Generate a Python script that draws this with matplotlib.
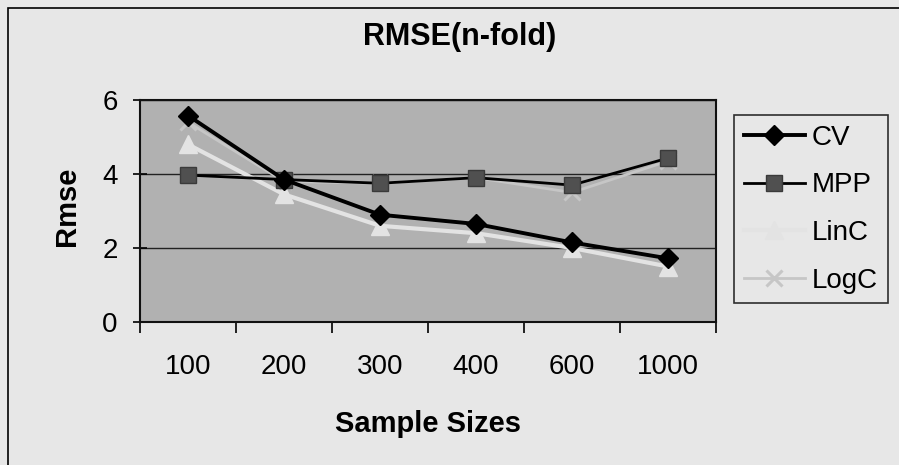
import matplotlib.pyplot as plt
from matplotlib.patches import Rectangle

# data
sizes = ['100', '200', '300', '400', '600', '1000']
cv = [5.58, 3.85, 2.9, 2.65, 2.15, 1.72]
mpp = [3.97, 3.85, 3.75, 3.9, 3.7, 4.43]
linc = [4.8, 3.45, 2.6, 2.4, 2.0, 1.5]
logc = [5.4, 3.8, 3.75, 3.9, 3.5, 4.35]

plt.rcParams['font.family'] = ['Liberation Sans', 'DejaVu Sans']

W, H = 899, 465
fig = plt.figure(figsize=(W / 100, H / 100), dpi=100)
fig.patch.set_facecolor('#e7e7e7')
# outer chart frame
fig.patches.append(Rectangle((8 / W, -0.05), 1.1, 1 - 8 / H + 0.05, transform=fig.transFigure,
                             fill=False, edgecolor='black', linewidth=1.2))

ax = fig.add_axes([140 / W, 1 - 322 / H, 576 / W, 222 / H])
ax.set_facecolor('#b1b1b1')
x = list(range(len(sizes)))

ax.plot(x, logc, color='#c6c6c6', linewidth=2, marker='x', markersize=11,
        markeredgewidth=2.2, label='LogC', zorder=3)
ax.plot(x, linc, color='#e3e3e3', linewidth=3, marker='^', markersize=13,
        markeredgecolor='#e3e3e3', label='LinC', zorder=3)
ax.plot(x, mpp, color='black', linewidth=2, marker='s', markersize=12,
        markerfacecolor='#505050', markeredgecolor='#3a3a3a', label='MPP', zorder=4)
ax.plot(x, cv, color='black', linewidth=2.8, marker='D', markersize=10,
        markerfacecolor='black', label='CV', zorder=5)

ax.set_xlim(-0.5, len(sizes) - 0.5)
ax.set_ylim(0, 6)
ax.set_yticks([0, 2, 4, 6])
ax.yaxis.grid(True, color='#222222', linewidth=1)
ax.set_axisbelow(True)

# category boundaries get the tick marks, labels sit between them
ax.set_xticks([i - 0.5 for i in range(len(sizes) + 1)])
ax.set_xticklabels([])
ax.set_xticks(x, minor=True)
ax.set_xticklabels(sizes, minor=True, fontsize=20)
ax.tick_params(axis='x', which='minor', length=0, pad=23)
ax.tick_params(axis='x', which='major', length=8, width=1.2, direction='out')
ax.tick_params(axis='y', length=10, width=1.2, direction='inout', labelsize=20, pad=11)

for s in ax.spines.values():
    s.set_linewidth(1.5)
    s.set_color('#111111')

# Excel centres the title on the whole chart area, not on the plot
fig.text(460 / W, 1 - 37 / H, 'RMSE(n-fold)', fontsize=22, fontweight='bold',
         ha='center', va='center')
ax.set_ylabel('Rmse', fontsize=21, fontweight='bold', va='center')
ax.yaxis.set_label_coords((67 - 140) / 576, 0.52)
ax.set_xlabel('Sample Sizes', fontsize=21, fontweight='bold', va='center')
ax.xaxis.set_label_coords(0.5, (322 - 424) / 222)

handles, labels = ax.get_legend_handles_labels()
order = [3, 2, 1, 0]
leg = fig.legend([handles[i] for i in order], [labels[i] for i in order],
                 loc='upper left', bbox_to_anchor=(734 / W, 1 - 115 / H),
                 fontsize=20, frameon=True, fancybox=False, handlelength=2.2,
                 labelspacing=0.78, borderpad=0.35, borderaxespad=0,
                 handletextpad=0.25)
leg.get_frame().set_edgecolor('black')
leg.get_frame().set_facecolor('#e7e7e7')
leg.get_frame().set_linewidth(1.2)

fig.savefig('out.png', dpi=100, facecolor=fig.get_facecolor())
